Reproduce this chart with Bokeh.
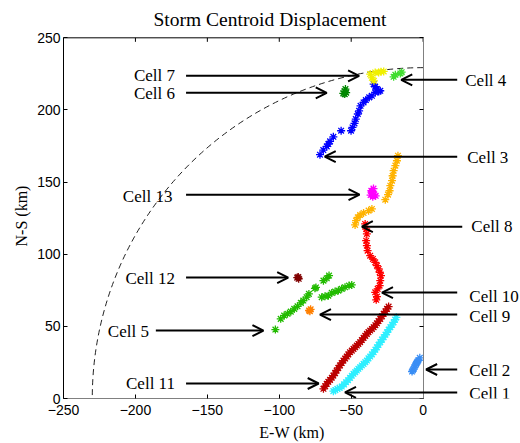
from math import pi
from bokeh.plotting import figure
from bokeh.models import LinearAxis, FixedTicker, Range1d, Label, Arrow, OpenHead
from bokeh.embed import file_html
from bokeh.resources import INLINE

# ---------------- data (km) ----------------
cell1_x = [-62.4, -61.0, -59.6, -58.0, -56.6, -55.0, -53.6, -52.2, -50.8, -49.6, -48.4, -47.2, -46.1, -45.0,
           -43.8, -42.6, -41.4, -40.2, -39.1, -38.0, -36.8, -35.6, -34.4, -33.2, -32.1, -31.0, -29.8, -28.6,
           -27.4, -26.2, -25.1, -24.0, -22.8, -21.6, -20.5, -19.5, -18.6]
cell1_y = [5.1, 5.8, 6.7, 7.4, 8.3, 9.8, 11.3, 12.7, 14.3, 15.8, 17.1, 18.2, 19.4, 20.6,
           21.7, 22.9, 24.0, 25.2, 26.3, 27.8, 29.1, 30.6, 32.1, 33.8, 35.5, 37.2, 39.0, 40.8,
           42.5, 44.2, 45.9, 47.7, 49.4, 51.1, 52.8, 54.6, 56.3]

cell2_x = [-7.7, -7.1, -6.5, -6.0, -5.4, -4.9, -4.4, -3.8, -3.3, -2.3]
cell2_y = [18.7, 19.6, 20.6, 21.8, 22.9, 23.9, 24.9, 25.7, 26.5, 28.2]

cell3_x = [-71.7, -69.4, -67.0, -65.9, -64.7, -62.4, -57.0, -50.1, -49.1, -47.7, -46.8, -45.4, -44.5,
           -43.5, -41.4, -39.8, -37.5, -35.6, -33.3, -30.9, -29.8, -32.1, -33.3, -34.4]
cell3_y = [169.0, 172.2, 174.7, 176.4, 178.2, 181.4, 185.6, 185.6, 187.9, 190.7, 193.7, 197.2, 199.4,
           202.9, 205.2, 206.9, 208.7, 209.8, 212.1, 212.8, 213.3, 214.5, 216.1, 217.9]

cell4_x = [-20.5, -19.3, -15.8, -14.9]
cell4_y = [223.0, 224.4, 225.3, 226.2]

cell5_x = [-102.7, -99.0, -96.6, -94.3, -92.0, -89.6, -87.3, -85.0, -83.3, -81.0, -79.4, -75.2, -74.5,
           -69.3, -67.0, -65.4, -70.5, -68.2, -65.9, -63.5, -61.2, -58.9, -56.6, -54.3, -51.5, -49.6]
cell5_y = [47.8, 55.2, 57.5, 58.7, 60.2, 62.1, 63.9, 66.3, 67.9, 70.2, 72.5, 76.4, 77.0,
           81.7, 83.3, 85.2, 70.2, 70.8, 71.3, 73.2, 74.1, 74.8, 76.0, 77.1, 78.3, 78.7]

cell6_x = [-55.5, -54.5, -53.5, -54.5, -54.0]
cell6_y = [211.5, 213.0, 212.0, 211.0, 214.5]

cell7_x = [-36.8, -35.6, -34.2, -33.3, -30.9, -29.3, -27.4]
cell7_y = [224.9, 222.3, 220.2, 226.0, 226.0, 226.5, 226.7]

cell8_x = [-17.5, -18.2, -19.3, -20.5, -21.2, -21.6, -22.8, -23.3, -24.4, -26.3,
           -35.6, -37.9, -41.4, -43.8, -45.4, -46.6, -47.3]
cell8_y = [168.3, 164.8, 161.4, 157.9, 154.4, 151.0, 147.5, 144.0, 141.3, 137.8,
           131.4, 130.2, 128.6, 127.2, 125.6, 123.3, 120.3]

cell9_x = [-79.3, -78.2, -78.7]
cell9_y = [61.0, 61.8, 60.5]

cell10_x = [-40.3, -39.6, -39.1, -39.6, -39.1, -38.6, -36.8, -34.9, -33.3, -32.1, -30.9, -30.2, -29.3,
            -29.8, -30.2, -31.6, -33.3, -32.1, -32.6]
cell10_y = [121.0, 117.5, 114.1, 109.4, 106.0, 102.5, 99.0, 96.7, 94.4, 92.1, 89.8, 87.5, 85.2,
            81.7, 78.3, 76.0, 73.6, 70.6, 68.4]

cell11_x = [-69.3, -68.1, -67.0, -65.9, -64.7, -63.5, -62.4, -61.2, -60.1, -59.0, -57.8, -56.6, -55.4,
            -54.2, -53.1, -52.0, -50.8, -49.6, -48.4, -47.2, -46.1, -45.0, -43.8, -42.6, -41.4, -40.2,
            -39.1, -38.0, -36.8, -35.6, -34.4, -33.2, -32.1, -31.0, -29.8, -28.6, -27.4, -26.2, -25.1, -24.0]
cell11_y = [6.7, 8.5, 10.2, 11.6, 12.9, 14.4, 15.9, 17.6, 19.4, 21.2, 22.9, 24.6, 26.3,
            27.7, 29.1, 30.6, 32.1, 33.2, 34.4, 35.5, 36.7, 37.8, 39.0, 40.5, 42.0, 43.4,
            44.8, 46.0, 47.1, 48.2, 49.4, 50.8, 52.1, 53.7, 55.2, 57.0, 58.7, 60.4, 62.1, 63.7]

cell12_x = [-87.5, -86.5, -86.8]
cell12_y = [83.8, 83.0, 84.2]

cell13_x = [-36.5, -35.5, -34.5, -34.0, -33.0, -35.0, -36.0]
cell13_y = [141.0, 143.5, 145.5, 141.5, 140.5, 139.8, 144.0]

arc_radius = 230.0

x_ticks = [-250, -200, -150, -100, -50, 0]
y_ticks = [0, 50, 100, 150, 200, 250]
x_lim = (-250, 0)
y_lim = (0, 250)

# annotations
ann_text = ["Cell 7", "Cell 6", "Cell 13", "Cell 12", "Cell 5", "Cell 11",
            "Cell 4", "Cell 3", "Cell 8", "Cell 10", "Cell 9", "Cell 2", "Cell 1"]
ann_tip_x = [-44.5, -67.0, -44.2, -93.8, -111.0, -72.6, -15.2, -68.4, -42.6, -28.6, -71.7, 2.1, -54.3]
ann_tip_y = [223.7, 211.9, 141.3, 83.8, 47.1, 10.4, 220.9, 167.6, 119.1, 73.4, 58.2, 20.1, 4.2]
ann_tail_x = [-164.8, -164.8, -164.8, -164.8, -185.8, -164.8, 23.7, 23.7, 27.2, 23.7, 23.7, 23.7, 23.7]
ann_label_x = [-172.5, -172.5, -174.3, -172.5, -190.6, -172.5, 29.3, 30.7, 33.5, 32.1, 32.1, 32.1, 32.1]
ann_label_y = [223.7, 211.2, 139.9, 83.1, 46.4, 10.4, 220.2, 166.9, 119.1, 70.6, 56.8, 19.4, 3.6]

cells = [
    (cell1_x, cell1_y, "#2FEFFF"),
    (cell2_x, cell2_y, "#3A8EF5"),
    (cell3_x, cell3_y, "#0000FF"),
    (cell4_x, cell4_y, "#40DD30"),
    (cell5_x, cell5_y, "#22BB00"),
    (cell6_x, cell6_y, "#008800"),
    (cell7_x, cell7_y, "#F0F000"),
    (cell8_x, cell8_y, "#FFB300"),
    (cell9_x, cell9_y, "#FF7F00"),
    (cell10_x, cell10_y, "#FF0000"),
    (cell11_x, cell11_y, "#BB0000"),
    (cell12_x, cell12_y, "#800000"),
    (cell13_x, cell13_y, "#FF00FF"),
]

SERIF = "Liberation Serif"
SANS = "Liberation Sans"

# the frame reaches a little above the box top so that the top edge is drawn inside it
p = figure(width=520, height=443, x_range=Range1d(x_lim[0], 67.7), y_range=Range1d(y_lim[0], 253),
           x_axis_type=None, y_axis_type=None, output_backend="svg", toolbar_location=None,
           min_border_left=63, min_border_right=0, min_border_top=33, min_border_bottom=30,
           title="Storm Centroid Displacement")
p.outline_line_color = None
p.background_fill_color = "white"
p.border_fill_color = "white"
p.title.text_font = SERIF
p.title.text_font_size = "19.5px"
p.title.text_font_style = "normal"
p.title.text_color = "black"
p.title.align = "left"
p.title.offset = 90
p.title.standoff = 7
p.title.background_fill_color = None


def style_axis(ax, ticks, line_color, show_labels):
    ax.ticker = FixedTicker(ticks=ticks)
    ax.major_tick_in = 4
    ax.major_tick_out = 0
    ax.minor_tick_line_color = None
    ax.major_tick_line_color = "black"
    ax.axis_line_color = line_color
    ax.major_label_text_font = SANS
    if show_labels:
        ax.major_label_text_font_size = "14px"
        ax.major_label_text_color = "black"
    else:
        ax.major_label_text_font_size = "1px"
        ax.major_label_text_color = None
        ax.major_label_standoff = 0
    ax.axis_label_text_font = SERIF
    ax.axis_label_text_font_style = "normal"
    ax.axis_label_text_font_size = "16px"
    ax.axis_label_text_color = "black"


xb = LinearAxis(bounds=x_lim, axis_label="E-W (km)")
yl = LinearAxis(bounds=y_lim, axis_label="N-S (km)")
yr = LinearAxis(bounds=y_lim, fixed_location=0)
style_axis(xb, x_ticks, "#808080", True)
style_axis(yl, y_ticks, "black", True)
style_axis(yr, y_ticks, "#808080", False)
xb.major_label_standoff = 6
xb.axis_label_standoff = 6
yl.major_label_standoff = 3
yl.axis_label_standoff = 4
p.add_layout(xb, "below")
p.add_layout(yl, "left")
p.add_layout(yr, "right")

# top edge of the axes box with its inward ticks
tick_len = 4 * (y_lim[1] - y_lim[0]) / 361.0
p.segment(x0=[x_lim[0]], y0=[y_lim[1]], x1=[x_lim[1]], y1=[y_lim[1]], line_color="black", line_width=1)
p.segment(x0=x_ticks, y0=[y_lim[1]] * len(x_ticks), x1=x_ticks,
          y1=[y_lim[1] - tick_len] * len(x_ticks), line_color="black", line_width=1)

# reference arc
p.arc(x=[0], y=[0], radius=arc_radius, start_angle=pi / 2, end_angle=pi,
      line_color="#222222", line_width=1, line_dash="6 4")

for xs, ys, c in cells:
    p.scatter(xs, ys, marker="asterisk", size=8, line_color=c, line_width=1.3)

for t, tx, ty, sx, lx, ly in zip(ann_text, ann_tip_x, ann_tip_y, ann_tail_x, ann_label_x, ann_label_y):
    p.add_layout(Arrow(end=OpenHead(size=11, line_width=2, line_color="black"),
                       x_start=sx, y_start=ty, x_end=tx, y_end=ty,
                       line_width=2, line_color="black"))
    p.add_layout(Label(x=lx, y=ly, text=t, text_align="right" if lx < 0 else "left",
                       text_baseline="middle", text_font=SERIF, text_font_size="17px",
                       text_color="black"))

open("out.html", "w").write(file_html(p, INLINE))
